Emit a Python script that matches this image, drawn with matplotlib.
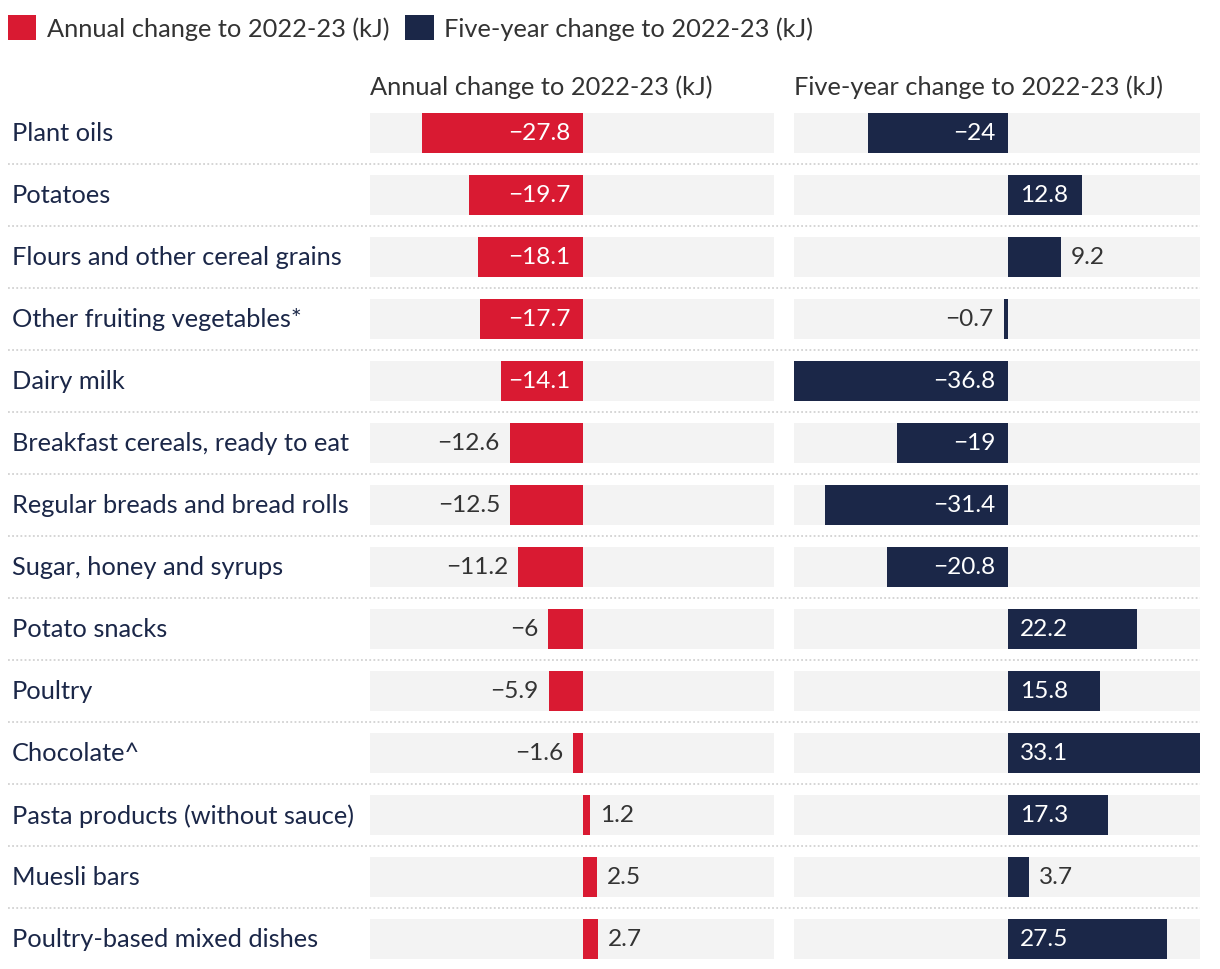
import matplotlib.pyplot as plt
from matplotlib.patches import Patch
from matplotlib.transforms import blended_transform_factory

categories = [
    "Plant oils",
    "Potatoes",
    "Flours and other cereal grains",
    "Other fruiting vegetables*",
    "Dairy milk",
    "Breakfast cereals, ready to eat",
    "Regular breads and bread rolls",
    "Sugar, honey and syrups",
    "Potato snacks",
    "Poultry",
    "Chocolate^",
    "Pasta products (without sauce)",
    "Muesli bars",
    "Poultry-based mixed dishes",
]
annual = [-27.8, -19.7, -18.1, -17.7, -14.1, -12.6, -12.5, -11.2, -6, -5.9, -1.6, 1.2, 2.5, 2.7]
five_year = [-24, 12.8, 9.2, -0.7, -36.8, -19, -31.4, -20.8, 22.2, 15.8, 33.1, 17.3, 3.7, 27.5]
series_names = ["Annual change to 2022-23 (kJ)", "Five-year change to 2022-23 (kJ)"]

RED = "#d91a32"
NAVY = "#1b2748"
BAND = "#f3f3f3"
TEXT = "#1b2748"
VALUE_TEXT = "#333333"
FONT = "Lato"
FS = 18.3
VFS = 17.6

W, H = 1220, 970
plt.rcParams["font.family"] = [FONT, "DejaVu Sans"]
fig = plt.figure(figsize=(W / 100, H / 100), dpi=100)

# row i sits at pixel 134 + 62 * i from the top
ylim = ((970 - 134) / 62, -134 / 62)
band_h = 40 / 62
rows = list(range(len(categories)))
lo, hi = min(annual + five_year), max(annual + five_year)

bg = fig.add_axes([0, 0, 1, 1])
bg.set_xlim(0, W)
bg.set_ylim(*ylim)
bg.axis("off")

for i, name in enumerate(categories):
    bg.text(12, i, name, ha="left", va="center", fontsize=FS, color=TEXT)
for i in rows:
    bg.plot([8, 1200], [i + 0.5, i + 0.5], color="#d2d2d2", lw=1.3,
            linestyle=(0, (1, 1.3)), zorder=0)

panels = [(370, 774, annual, RED, series_names[0]),
          (794, 1200, five_year, NAVY, series_names[1])]
for x0, x1, values, color, header in panels:
    ax = fig.add_axes([x0 / W, 0, (x1 - x0) / W, 1])
    ax.set_xlim(lo, hi)
    ax.set_ylim(*ylim)
    ax.axis("off")
    ax.barh(rows, [hi - lo] * len(rows), left=lo, height=band_h, color=BAND, zorder=1)
    ax.barh(rows, values, height=band_h, color=color, zorder=2)
    trans = blended_transform_factory(ax.transAxes, ax.transData)
    ax.text(0, -47 / 62, header, transform=trans, ha="left", va="center",
            fontsize=FS, color="#333333")
    for i, v in enumerate(values):
        label = f"{v:g}".replace("-", "\u2212")
        if abs(v) >= 12.7:
            # inside, anchored at the zero end
            off = -12 if v < 0 else 12
            ax.annotate(label, (0, i), xytext=(off, 0), textcoords="offset pixels",
                        ha="right" if v < 0 else "left", va="center",
                        fontsize=VFS, color="white", zorder=3)
        else:
            off = -10 if v < 0 else 10
            ax.annotate(label, (v, i), xytext=(off, 0), textcoords="offset pixels",
                        ha="right" if v < 0 else "left", va="center",
                        fontsize=VFS, color=VALUE_TEXT, zorder=3)

handles = [Patch(facecolor=RED, edgecolor="none"), Patch(facecolor=NAVY, edgecolor="none")]
fig.legend(handles, series_names, loc="upper left", bbox_to_anchor=(8 / W, 1 - 16 / H),
           ncol=2, frameon=False, fontsize=FS, handlelength=1.12, handleheight=1.15,
           handletextpad=0.4, columnspacing=0.64, borderaxespad=0, borderpad=0,
           labelcolor="#333333")

fig.savefig("out.png", dpi=100, facecolor="white")
